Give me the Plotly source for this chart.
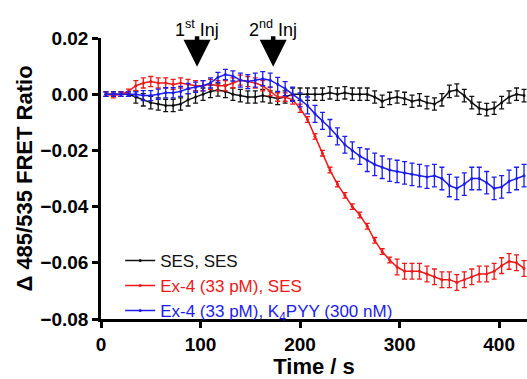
import plotly.graph_objects as go

time_s = [5, 12.5, 20, 27.5, 35, 42.5, 50, 57.5, 65, 72.5, 80, 87.5, 95, 102.5, 110, 117.5,
          125, 132.5, 140, 147.5, 155, 162.5, 170, 177.5, 185, 192.5, 200, 207.5, 215, 222.5,
          230, 237.5, 245, 252.5, 260, 267.5, 275, 282.5, 290, 297.5, 305, 312.5, 320, 327.5,
          335, 342.5, 350, 357.5, 365, 372.5, 380, 387.5, 395, 402.5, 410, 417.5, 425]

ses_ses = [0.000, 0.000, 0.000, 0.000, -0.001, -0.002, -0.003, -0.0035, -0.004, -0.004,
           -0.0035, -0.002, -0.001, 0.000, 0.001, 0.0015, 0.001, 0.000, -0.0005, -0.001,
           -0.001, -0.0005, -0.001, -0.0015, -0.001, 0.000, 0.000, 0.000, 0.000, 0.000,
           0.0005, 0.000, 0.0005, 0.000, 0.000, 0.000, -0.001, -0.0025, -0.0015, -0.001,
           -0.0015, -0.0025, -0.002, -0.003, -0.0035, -0.002, 0.001, 0.0015, -0.0005, -0.003,
           -0.005, -0.0055, -0.005, -0.003, -0.001, 0.000, -0.0005]
ses_ses_err = [0.0008, 0.0008, 0.0008, 0.0008] + [0.0022] * 53

ex4_ses = [0.000, -0.0005, 0.000, 0.001, 0.003, 0.004, 0.0045, 0.004, 0.004, 0.0035,
           0.004, 0.0035, 0.003, 0.003, 0.0035, 0.003, 0.003, 0.004, 0.005, 0.0045,
           0.004, 0.003, 0.001, -0.001, -0.001, -0.002, -0.005, -0.009, -0.015, -0.021,
           -0.027, -0.032, -0.036, -0.040, -0.043, -0.047, -0.052, -0.056, -0.059, -0.0615,
           -0.063, -0.063, -0.063, -0.064, -0.065, -0.066, -0.066, -0.067, -0.066, -0.065,
           -0.064, -0.064, -0.063, -0.061, -0.0595, -0.060, -0.062]
ex4_ses_err = ([0.0008] * 4 + [0.0018] * 18 + [0.0015] * 5 + [0.001] * 12 + [0.0028] * 18)

ex4_pyy = [0.000, 0.000, 0.000, 0.000, 0.000, -0.0005, -0.0005, 0.000, 0.0005, 0.0005,
           0.001, 0.002, 0.0025, 0.003, 0.004, 0.006, 0.007, 0.0065, 0.005, 0.0045,
           0.005, 0.0055, 0.005, 0.0035, 0.002, 0.000, -0.002, -0.004, -0.007, -0.0095,
           -0.012, -0.015, -0.018, -0.020, -0.022, -0.0235, -0.025, -0.026, -0.027, -0.0275,
           -0.028, -0.0285, -0.029, -0.0295, -0.029, -0.030, -0.0325, -0.0335, -0.032, -0.030,
           -0.030, -0.0315, -0.0335, -0.033, -0.031, -0.030, -0.029]
ex4_pyy_err = ([0.0008] * 5 + [0.0018] * 13 + [0.0025] * 9 + [0.003] * 8 + [0.004] * 22)

names = ["SES, SES", "Ex-4 (33 pM), SES", "Ex-4 (33 pM), K<sub>4</sub>PYY (300 nM)"]
colors = ["#111111", "#f01818", "#1c1cf0"]
series = [ses_ses, ex4_ses, ex4_pyy]
errors = [ses_ses_err, ex4_ses_err, ex4_pyy_err]

inj_times = [96.5, 173]
inj_labels = ["1<sup>st</sup> Inj", "2<sup>nd</sup> Inj"]

x_ticks = [0, 100, 200, 300, 400]
y_ticks = [-0.08, -0.06, -0.04, -0.02, 0.00, 0.02]
y_tick_text = ["\u22120.08", "\u22120.06", "\u22120.04", "\u22120.02", "0.00", "0.02"]

FONT = "Arial, Liberation Sans, sans-serif"

fig = go.Figure()
for name, col, ys, err in zip(names, colors, series, errors):
    fig.add_trace(go.Scatter(
        x=time_s, y=ys, mode="lines+markers",
        name=f"<span style='color:{col}'>{name}</span>",
        line=dict(color=col, width=1.5),
        marker=dict(color=col, size=3),
        error_y=dict(type="data", array=err, visible=True, color=col,
                     thickness=1.3, width=2.5),
    ))

# injection arrows and labels
for tx, label in zip(inj_times, inj_labels):
    fig.add_annotation(x=tx, y=0.00975, xref="x", yref="y", text="",
                       showarrow=True, ax=0, ay=-32, arrowhead=2, arrowsize=1.2,
                       arrowwidth=4.5, arrowcolor="black")
    fig.add_annotation(x=tx, y=1.035, xref="x", yref="paper", text=label,
                       showarrow=False, yanchor="middle",
                       font=dict(size=18, color="black", family=FONT))

fig.update_layout(
    width=527, height=379,
    margin=dict(l=101, r=0, t=38, b=54),
    paper_bgcolor="white", plot_bgcolor="white",
    font=dict(family=FONT, color="black"),
    showlegend=True,
    legend=dict(x=0.045, y=-0.035, xanchor="left", yanchor="bottom",
                bgcolor="rgba(0,0,0,0)", font=dict(size=17, family=FONT),
                tracegroupgap=0, itemwidth=30),
    xaxis=dict(range=[0, 428], tickvals=x_ticks, showgrid=False, zeroline=False,
               showline=True, linecolor="black", linewidth=2.5,
               ticks="outside", ticklen=6, tickwidth=2.5, tickcolor="black",
               tickfont=dict(size=19, family=FONT, weight="bold"),
               title=dict(text="<b>Time / s</b>", font=dict(size=22, family=FONT),
                          standoff=9)),
    yaxis=dict(range=[-0.08, 0.02], tickvals=y_ticks, ticktext=y_tick_text,
               showgrid=False, zeroline=False,
               showline=True, linecolor="black", linewidth=2.5,
               ticks="outside", ticklen=6, tickwidth=2.5, tickcolor="black",
               tickfont=dict(size=19, family=FONT, weight="bold"),
               title=dict(text="<b>\u0394 485/535 FRET Ratio</b>",
                          font=dict(size=22, family=FONT), standoff=2)),
)

fig.write_html("out.html")
